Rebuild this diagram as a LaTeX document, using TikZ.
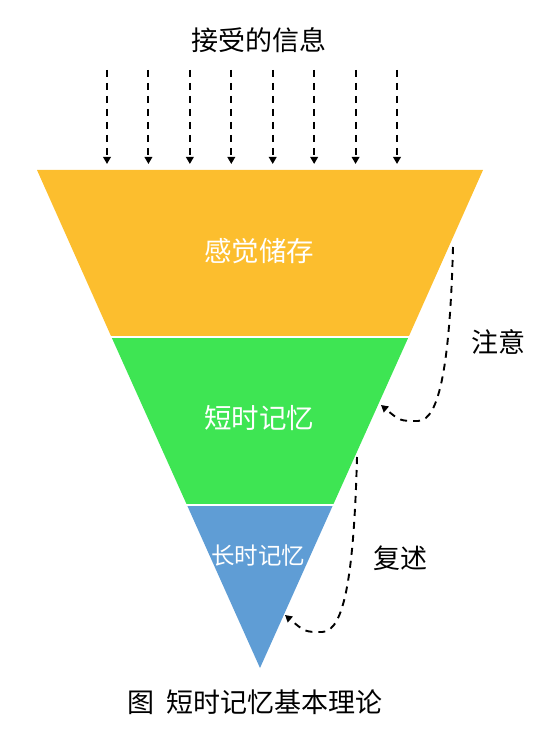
\documentclass[tikz,border=0pt]{standalone}
\usepackage{fontspec}
\setmainfont{Noto Sans CJK SC}
\usetikzlibrary{arrows.meta}
\definecolor{sensory}{HTML}{FCBE2E}
\definecolor{shortmem}{HTML}{3EE553}
\definecolor{longmem}{HTML}{5F9DD5}

\begin{document}
\begin{tikzpicture}[x=1pt, y=-1pt]
\tikzset{
>={Triangle[length=7pt, width=7.5pt]}, % filled arrow heads
flow/.style={->, dashed, dash pattern=on 7pt off 6pt, line width=1.9pt}, % dashed arrows
caption/.style={font=\fontsize{27}{27}\selectfont, text=black}, % black texts
band/.style={font=\fontsize{27.5}{27.5}\selectfont, text=white}, % texts in the funnel
}
	\useasboundingbox (0,0) rectangle (554,730);
	% funnel
	\coordinate (tl) at (37,170);
	\coordinate (tr) at (483,170);
	\coordinate (apex) at (260,668);
	\fill[sensory] (tl) -- (tr) -- (409,336) -- (111,336) -- cycle;
	\fill[shortmem] (111,336) -- (409,336) -- (333.5,504) -- (186.5,504) -- cycle;
	\fill[longmem] (186.5,504) -- (333.5,504) -- (apex) -- cycle;
	\draw[white, line width=2pt] (105,336.5) -- (415,336.5);
	\draw[white, line width=2pt] (180,504.5) -- (340,504.5);

	\node[caption] (input) at (259,40) {接受的信息};
	\node[band] (sensorylabel) at (259,251) {感觉储存};
	\node[band] (shortlabel) at (259,418) {短时记忆};
	\node[band, font=\fontsize{23.5}{23.5}\selectfont] (longlabel) at (258,556) {长时记忆};
	\node[caption] (attention) at (498,342) {注意};
	\node[caption] (rehearsal) at (400,558) {复述};
	\node[caption] (title) at (255,702) {图\hspace{0.45em}短时记忆基本理论};

	% incoming information
	\foreach \i in {0,...,7}{
		\coordinate (in\i) at ({107+41.43*\i},70);
		\coordinate (out\i) at ({107+41.43*\i},164);
		\draw[flow] (in\i) -- (out\i);
	}

	% attention and rehearsal
	\coordinate (att1) at (453,247);
	\coordinate (att2) at (418,421);
	\coordinate (att3) at (381,405);
	\draw[flow] (att1) .. controls (450,360) and (440,421) .. (att2)
		.. controls (400,421) .. (att3);
	\coordinate (reh1) at (357,457);
	\coordinate (reh2) at (322,632);
	\coordinate (reh3) at (285,615);
	\draw[flow] (reh1) .. controls (354,570) and (345,632) .. (reh2)
		.. controls (305,632) .. (reh3);
\end{tikzpicture}
\end{document}
